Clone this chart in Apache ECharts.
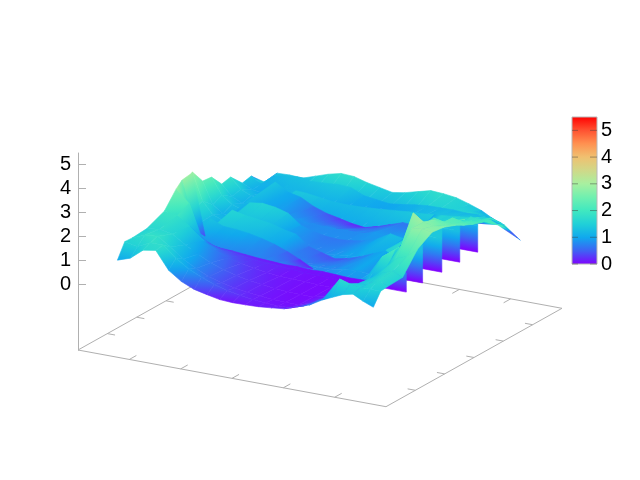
<!DOCTYPE html>
<html lang="en">
<head>
<meta charset="utf-8">
<title>surface</title>
<script src="https://cdnjs.cloudflare.com/ajax/libs/echarts/6.0.0/echarts.min.js"></script>
<style>html,body{margin:0;background:#fff}#chart{width:640px;height:480px}</style>
</head>
<body>
<div id="chart"></div>
<script>
var n = null;
// surface columns, 0..1 along the front edge
var sValues = [0,.05,.1,.15,.2,.25,.3,.35,.4,.45,.5,.55,.6,.65,.7,.75,.8,.85,.9,.95,1];
var ridgeS = [.8,.84,.88,.92,.96,1];
var scallopS = [0,.04,.08,.13,.18];
var wallS = [.8,.891];
var zTicks = [0,1,2,3,4,5];
var barTicks = [0,1,2,3,4,5];
var floorTicks = [1/6,2/6,3/6,4/6,5/6];
// colours every 0.5 from 0 to 5.5
var colorStops = ['#8000ff','#4060f4','#10a8ee','#20d0d8','#40e8c0','#70f0b0','#a8f0a0','#d0d888','#f0c070','#ff9050','#ff5030','#ff0000'];

// sheets are listed far to near, every row is one t with z per column
var backT = [1,.88];
var backZ = [
  [.83,1.3,1.32,1.29,1.47,1.65,1.78,1.75,1.6,1.49,1.38,1.47,1.61,1.75,1.72,1.65,1.49,1.3,1.02,.76,.37],
  [1.2,1.2,1.2,1.2,1.2,1.2,1.2,1.2,1.2,1.2,1.2,1.2,1.2,1.3,1.54,1.55,1.57,1.62,1.67,1.6,1.37]
];
var band7T = [.98,.78];
var band7Z = [
  [n,n,n,1.27,1.32,1.34,1.39,1.36,1.12,1.05,.98,1.04,1.13,1.19,1.2,1.21,1.18,1.2,1.17,.97,.53],
  [n,n,n,1,.95,.95,.95,.95,.95,.95,.95,.95,.95,1.16,1.26,1.4,1.53,1.63,1.64,1.74,2.04]
];
var band6T = [.85,.62];
var band6Z = [
  [n,n,n,1.8,1.4,1.37,1.3,1.22,1.2,1.21,1.24,1.28,1.33,1.38,1.4,1.45,1.5,1.56,1.61,1.75,n],
  [n,n,n,.9,.9,.9,.9,.9,.9,.9,.9,.9,.9,.9,.9,.9,1.54,1.85,2.1,2.37,n]
];
var scallopT = [1,.91,.85,.77,.71,.64,.58,.51,.3];
var scallopZ = [
  [.83,1.15,1.25,1.3,1.3],
  [1.39,1.15,1.1,1.15,1.2],
  [1.3,1.1,1.05,1.1,1.15],
  [1.83,1.4,1.2,1.1,1.05],
  [1.74,1.3,1.1,1.05,1.05],
  [2.27,1.6,1.3,1.1,1],
  [2.31,1.4,1.1,1,1],
  [2.93,1.8,1.3,1.1,1],
  [1.5,1.3,1.2,1.1,1]
];
var band5T = [.9,.7,.5];
var band5Z = [
  [n,n,1.37,1.05,.93,.65,.46,.35,.23,.16,.3,.48,.66,.63,.64,.86,n,n,n,n,n],
  [n,n,1.2,1,.95,.9,.9,.8,.8,.8,.8,.8,.9,.9,.95,1,n,n,n,n,n],
  [n,n,.85,.85,.85,.85,.85,.85,.85,.85,.85,.85,.85,.85,.85,.85,n,n,n,n,n]
];
var band4T = [.64,.44,.34];
var band4Z = [
  [n,n,n,1.5,1.57,1.5,1.35,.94,.79,.68,.65,.7,.8,.98,1.28,1.17,1.51,1.78,n,n,n],
  [n,n,n,1.2,1.2,1.15,1.1,1,.9,.8,.8,.8,.9,.95,1,1,1.5,1.78,n,n,n],
  [n,n,n,.85,.85,.85,.85,.85,.85,.85,.85,.85,.85,.85,.85,.85,1.1,1.1,n,n,n]
];
var band3T = [.52,.32,.22];
var band3Z = [
  [n,n,n,1.6,1.48,1.41,1.34,1.19,1.08,.67,.52,.36,.46,.64,.86,1.08,.76,1.69,2.1,n,n],
  [n,n,n,1.2,1.2,1.15,1.1,1,.9,.8,.8,.8,.8,.8,.9,.95,.9,1.7,2.1,n,n],
  [n,n,n,.85,.85,.85,.85,.85,.85,.85,.85,.85,.85,.85,.85,.85,.85,1,1,n,n]
];
var band2T = [.46,.3];
var band2Z = [
  [n,n,1.35,1.13,1.1,1.03,.92,.77,.57,.33,.05,n,n,n,n,n,n,n,n,n,n],
  [n,n,.75,.75,.75,.75,.75,.75,.75,.75,.75,n,n,n,n,n,n,n,n,n,n]
];
var bowlT = [.51,.44,.4,.32,.2,.1,.05,0];
var bowlZ = [
  [2.9,.35,n,n,n,n,n,n,n,n,n,n,n,n,n,n,n,n,n,n,n],
  [2.83,.85,.4,.29,.26,.21,.16,.13,.1,.11,.08,.1,.07,.04,.05,.1,n,n,n,n,n],
  [2.6,2.1,.75,.5,.4,.32,.25,.2,.18,.12,.1,.08,.06,.05,.05,.05,n,n,n,n,n],
  [1.95,1.85,1.5,1,.7,.5,.35,.25,.18,.12,.1,.08,.06,.05,.05,.05,.06,n,n,n,n],
  [1.63,1.7,1.6,1.25,.95,.7,.5,.36,.25,.18,.12,.08,.06,.06,.16,.42,.52,n,n,n,n],
  [1.58,1.8,1.85,1.5,1.1,.8,.55,.4,.28,.2,.14,.1,.08,.08,.25,.55,.82,n,n,n,n],
  [1.6,1.5,1.75,1.75,1.3,.95,.7,.5,.35,.25,.17,.12,.1,.12,.3,.6,.86,n,n,n,n],
  [1,1.18,1.61,1.7,.97,.6,.37,.25,.14,.11,.12,.14,.19,.25,.43,.6,.91,n,n,n,n]
];
var ridgeT = [.93,.87,.8,.74,.68,.62,.56,.48,.4,.3,.2,.1,.05,0];
var ridgeZ = [
  [n,n,1.22,1.42,1.25,.99],
  [n,n,1.55,1.54,1.62,1.53],
  [n,n,1.54,1.86,1.82,1.98],
  [n,n,1.95,1.82,1.98,2],
  [n,n,1.9,2.23,2.14,2.13],
  [n,n,2.36,2.27,2.3,2.3],
  [n,n,2.35,2.55,2.42,2.5],
  [n,1.8,3.05,2.75,2.66,2.69],
  [n,.9,1.95,2.76,2.81,2.76],
  [n,.79,1.45,1.86,2.02,2.39],
  [n,.97,1.3,1.6,1.74,1.57],
  [n,1.3,1.39,1.46,1.7,1.53],
  [1.1,1.69,1.56,1.5,1.5,1.5],
  [.91,1.1,1.29,1.39,1.17,1]
];
// the stepped walls under the ridge on the right, with a fold above the first four
var wallT = [.9,.778,.656,.525,.414];
var wallTop = [1.1,1.3,1.4,1.3,.8];
var wallFold = [1,1,1,1,0];

// oblique view: floor u,v plus height to the x and y axes of the hidden grid
function toAxis(u, v, z) {
  return [78 + 308 * u + 176 * v, z - (56.7 * u - 98.4 * v) / 24];
}
function surfacePoint(s, t, z) {
  return toAxis(.0968 + .831 * s, .0545 + .835 * t, z);
}
function colorAt(z) {
  return echarts.color.lerp(Math.max(0, Math.min(1, z / 5.5)), colorStops);
}

function addSheet(out, cols, ts, zs) {
  for (var i = 0; i + 1 < ts.length; i++) {
    for (var j = 0; j + 1 < cols.length; j++) {
      var a = zs[i][j], b = zs[i][j + 1], c = zs[i + 1][j + 1], d = zs[i + 1][j];
      if (a === n || b === n || c === n || d === n) continue;
      out.push([cols[j], ts[i], a, cols[j + 1], ts[i], b, cols[j + 1], ts[i + 1], c, cols[j], ts[i + 1], d]);
    }
  }
}
var quads = [];
wallT.forEach(function (t, k) {
  var top = wallTop[k];
  if (wallFold[k]) {
    quads.push([wallS[0] - .085, t + .15, top, wallS[1] - .085, t + .15, top, wallS[1], t, top, wallS[0], t, top]);
  }
  addSheet(quads, wallS, [t, t], [[top, top], [0, 0]]);
});
addSheet(quads, sValues, backT, backZ);
addSheet(quads, sValues, band7T, band7Z);
addSheet(quads, sValues, band6T, band6Z);
addSheet(quads, scallopS, scallopT, scallopZ);
addSheet(quads, sValues, band5T, band5Z);
addSheet(quads, sValues, band4T, band4Z);
addSheet(quads, sValues, band3T, band3Z);
addSheet(quads, sValues, band2T, band2Z);
addSheet(quads, sValues, bowlT, bowlZ);
addSheet(quads, ridgeS, ridgeT, ridgeZ);

function renderQuad(params, api) {
  var pts = [], zs = [];
  for (var k = 0; k < 4; k++) {
    var z = api.value(k * 3 + 2);
    pts.push(api.coord(surfacePoint(api.value(k * 3), api.value(k * 3 + 1), z)));
    zs.push(z);
  }
  var zMin = Math.min.apply(null, zs), zMax = Math.max.apply(null, zs);
  var fill = colorAt((zMin + zMax) / 2);
  // fit a plane through the corners, the gradient runs along its slope
  var dx1 = pts[2][0] - pts[0][0], dy1 = pts[2][1] - pts[0][1], dz1 = zs[2] - zs[0];
  var dx2 = pts[3][0] - pts[1][0], dy2 = pts[3][1] - pts[1][1], dz2 = zs[3] - zs[1];
  var det = dx1 * dy2 - dx2 * dy1;
  if (Math.abs(det) > 1 && zMax - zMin > .02) {
    var a = (dz1 * dy2 - dz2 * dy1) / det, b = (dx1 * dz2 - dx2 * dz1) / det;
    var g2 = a * a + b * b;
    var cx = (pts[0][0] + pts[1][0] + pts[2][0] + pts[3][0]) / 4;
    var cy = (pts[0][1] + pts[1][1] + pts[2][1] + pts[3][1]) / 4;
    var zc = (zs[0] + zs[1] + zs[2] + zs[3]) / 4;
    if (g2 > 1e-6) {
      var stops = [];
      for (var i = 0; i <= 4; i++) {
        stops.push({offset: i / 4, color: colorAt(zMin + (zMax - zMin) * i / 4)});
      }
      fill = new echarts.graphic.LinearGradient(
        cx + a * (zMin - zc) / g2, cy + b * (zMin - zc) / g2,
        cx + a * (zMax - zc) / g2, cy + b * (zMax - zc) / g2,
        stops, true);
    }
  }
  return {
    type: 'polygon',
    shape: {points: pts},
    style: {fill: fill, stroke: fill, lineWidth: .6}
  };
}

// floor box with its ticks, [u0, v0, u1, v1]
var floorLines = [[0,0,1,0],[1,0,1,1],[1,1,0,1],[0,1,0,0]];
floorTicks.forEach(function (f) {
  floorLines.push([f,0,f,.04]);
  floorLines.push([1,f,.975,f]);
  floorLines.push([0,f,.025,f]);
  floorLines.push([f,1,f,.96]);
});
function renderFloor(params, api) {
  var p0 = api.coord(toAxis(api.value(0), api.value(1), -2.75));
  var p1 = api.coord(toAxis(api.value(2), api.value(3), -2.75));
  return {
    type: 'line',
    shape: {x1: p0[0], y1: p0[1], x2: p1[0], y2: p1[1]},
    style: {stroke: '#b0b0b0', lineWidth: 1, fill: null}
  };
}
function renderBar(params, api) {
  var p0 = api.coord([0, 5.5]), p1 = api.coord([1, 0]);
  var stops = colorStops.map(function (c, i) {
    return {offset: 1 - i / (colorStops.length - 1), color: c};
  });
  var children = [{
    type: 'rect',
    shape: {x: p0[0], y: p0[1], width: p1[0] - p0[0], height: p1[1] - p0[1]},
    style: {fill: new echarts.graphic.LinearGradient(0, 0, 0, 1, stops), stroke: '#b8b8b8', lineWidth: 1}
  }];
  barTicks.forEach(function (v) {
    var y = api.coord([0, v])[1];
    [[p0[0], p0[0] + 6], [p1[0] - 7, p1[0]]].forEach(function (r) {
      children.push({
        type: 'line',
        shape: {x1: r[0], y1: y, x2: r[1], y2: y},
        style: {stroke: 'rgba(60,60,60,.45)', lineWidth: 1}
      });
    });
  });
  return {type: 'group', children: children};
}

var labelStyle = {color: '#000', fontSize: 20, fontFamily: 'Liberation Sans'};
var chart = echarts.init(document.getElementById('chart'), null, {renderer: 'canvas'});
chart.setOption({
  animation: false,
  backgroundColor: '#fff',
  grid: [
    {left: 78, top: 153, width: 522, height: 197},
    {left: 572, top: 117, width: 25, height: 147}
  ],
  xAxis: [
    {type: 'value', min: 78, max: 600, show: false},
    {type: 'value', min: 0, max: 1, gridIndex: 1, show: false}
  ],
  yAxis: [
    {
      type: 'value', min: -2.75, max: 5.46, position: 'left',
      splitLine: {show: false},
      axisLine: {show: true, lineStyle: {color: '#b0b0b0'}},
      axisTick: {show: true, inside: true, length: 8, customValues: zTicks, lineStyle: {color: '#b0b0b0'}},
      axisLabel: Object.assign({customValues: zTicks, margin: 7}, labelStyle)
    },
    {
      type: 'value', min: 0, max: 5.5, gridIndex: 1, position: 'right',
      splitLine: {show: false},
      axisLine: {show: false},
      axisTick: {show: false},
      axisLabel: Object.assign({customValues: barTicks, margin: 4}, labelStyle)
    }
  ],
  series: [
    {type: 'custom', xAxisIndex: 0, yAxisIndex: 0, data: floorLines, renderItem: renderFloor, silent: true, z: 1},
    {type: 'custom', xAxisIndex: 0, yAxisIndex: 0, data: quads, renderItem: renderQuad, silent: true, progressive: 0, z: 2},
    {type: 'custom', xAxisIndex: 1, yAxisIndex: 1, data: [[0]], renderItem: renderBar, silent: true, z: 2}
  ]
});
</script>
</body>
</html>
